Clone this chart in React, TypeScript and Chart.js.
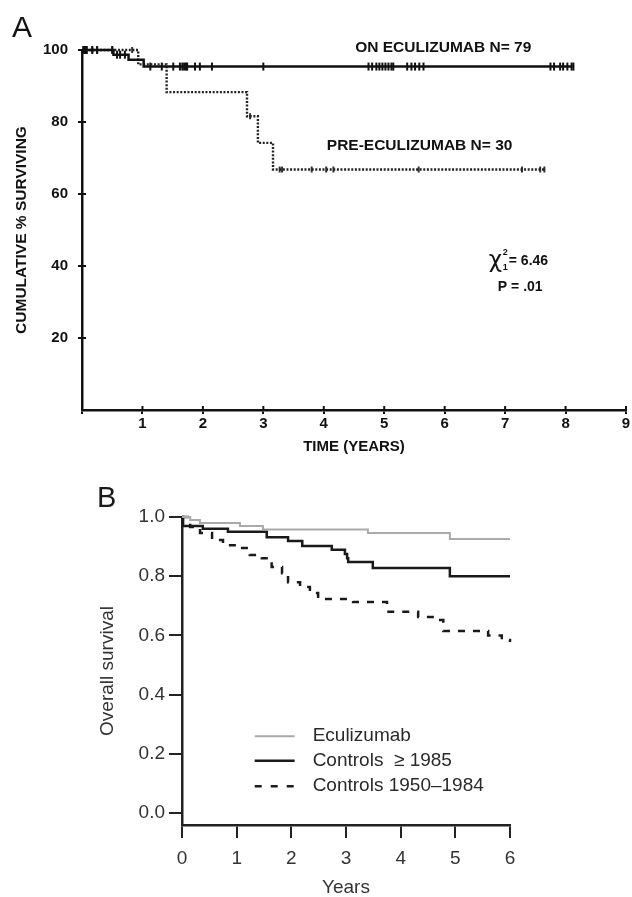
import React, { useEffect, useRef } from 'react';
import { Chart, registerables } from 'chart.js';
Chart.register(...registerables);

const FONT = '"Liberation Sans", Arial, Helvetica, sans-serif';

// ---------- Panel A data ----------
const onEculTimes = [0, 0.52, 0.77, 1.02, 8.13];
const onEculSurv = [100, 98.7, 97.3, 95.4, 95.4];
const onEculCensor = [0.02, 0.05, 0.08, 0.17, 0.25, 0.5, 0.58, 0.63, 0.71, 1.13, 1.32, 1.51, 1.62, 1.66, 1.69, 1.72, 1.74, 1.87, 1.95, 2.15, 3.0, 4.74, 4.8, 4.87, 4.92, 4.97, 5.02, 5.07, 5.12, 5.15, 5.38, 5.45, 5.51, 5.58, 5.65, 7.75, 7.81, 7.91, 7.96, 8.03, 8.1, 8.13];
const preEculTimes = [0, 0.93, 1.4, 2.73, 2.91, 3.16, 7.67];
const preEculSurv = [100, 96, 88.3, 81.6, 74.2, 66.8, 66.8];
const preEculCensor = [0.17, 0.25, 0.5, 0.83, 2.78, 3.27, 3.31, 3.8, 4.04, 4.16, 5.57, 7.28, 7.58, 7.65];
const xTicksA = [0, 1, 2, 3, 4, 5, 6, 7, 8, 9];
const yTicksA = [20, 40, 60, 80, 100];
const labelOnA = 'ON ECULIZUMAB N= 79';
const labelPreA = 'PRE-ECULIZUMAB N= 30';
const chiValue = '= 6.46';
const pValue = 'P = .01';

// ---------- Panel B data ----------
const ecuTimes = [0, 0.15, 0.33, 1.06, 1.48, 3.4, 4.9, 6.0];
const ecuSurv = [1.0, 0.99, 0.98, 0.97, 0.958, 0.946, 0.926, 0.926];
const ctlTimes = [0, 0.02, 0.38, 0.84, 1.55, 1.94, 2.2, 2.74, 2.98, 3.02, 3.04, 3.49, 4.9, 6.0];
const ctlSurv = [1.0, 0.97, 0.96, 0.95, 0.932, 0.919, 0.902, 0.889, 0.875, 0.861, 0.848, 0.828, 0.8, 0.8];
const oldTimes = [0, 0.15, 0.33, 0.55, 0.75, 1.1, 1.24, 1.46, 1.64, 1.83, 1.94, 2.16, 2.34, 2.49, 3.13, 3.75, 4.32, 4.63, 4.78, 5.6, 5.85, 6.0];
const oldSurv = [1.0, 0.966, 0.946, 0.922, 0.905, 0.895, 0.872, 0.861, 0.831, 0.81, 0.78, 0.764, 0.743, 0.723, 0.713, 0.68, 0.662, 0.652, 0.615, 0.6, 0.585, 0.578];
const xTicksB = [0, 1, 2, 3, 4, 5, 6];
const yTicksB = [0, 0.2, 0.4, 0.6, 0.8, 1.0];
const legendB = ['Eculizumab', 'Controls  \u2265 1985', 'Controls 1950\u20131984'];

function stepData(times: number[], surv: number[]) {
  return times.map((t, i) => ({ x: t, y: surv[i] }));
}
function survAt(times: number[], surv: number[], t: number) {
  let v = surv[0];
  for (let i = 0; i < times.length; i++) if (times[i] <= t) v = surv[i];
  return v;
}

const crossTicks = {
  id: 'crossTicks',
  afterDatasetsDraw(chart: any) {
    const { ctx, scales } = chart;
    const x = scales.x, y = scales.y;
    ctx.save();
    ctx.strokeStyle = '#111';
    ctx.lineWidth = 2;
    const ax = chart.chartArea.left;
    const ay = chart.chartArea.bottom;
    y.ticks.forEach((t: any) => {
      const py = y.getPixelForValue(t.value);
      ctx.beginPath(); ctx.moveTo(ax, py); ctx.lineTo(ax + 4, py); ctx.stroke();
    });
    x.ticks.forEach((t: any) => {
      const px = x.getPixelForValue(t.value);
      ctx.beginPath(); ctx.moveTo(px, ay); ctx.lineTo(px, ay - 4); ctx.stroke();
    });
    ctx.restore();
  },
};

const annotA = {
  id: 'annotA',
  afterDraw(chart: any) {
    const { ctx, scales } = chart;
    const x = scales.x, y = scales.y;
    ctx.save();
    ctx.fillStyle = '#111';
    ctx.textBaseline = 'middle';
    ctx.textAlign = 'left';
    ctx.font = `bold 15.5px ${FONT}`;
    ctx.fillText(labelOnA, x.getPixelForValue(4.52), y.getPixelForValue(100.6));
    ctx.fillText(labelPreA, x.getPixelForValue(4.05), y.getPixelForValue(73.3));
    // chi-square
    const cx = x.getPixelForValue(6.73), cy = y.getPixelForValue(41.5);
    ctx.font = `23px "DejaVu Sans", ${FONT}`;
    ctx.fillText('\u03C7', cx, cy);
    ctx.font = `bold 9px ${FONT}`;
    ctx.fillText('2', cx + 14, cy - 8);
    ctx.fillText('1', cx + 14, cy + 7);
    ctx.font = `bold 14px ${FONT}`;
    ctx.fillText(chiValue, cx + 20, cy + 1);
    ctx.fillText(pValue, x.getPixelForValue(6.88), y.getPixelForValue(34.2));
    // panel letter
    ctx.font = `30px ${FONT}`;
    ctx.textBaseline = 'alphabetic';
    ctx.fillText('A', 12, 37);
    ctx.restore();
  },
};

const legendPluginB = {
  id: 'legendB',
  afterDraw(chart: any) {
    const { ctx, scales } = chart;
    const x = scales.x, y = scales.y;
    const x0 = x.getPixelForValue(1.33);
    const x1 = x.getPixelForValue(2.06);
    const tx = x.getPixelForValue(2.39);
    const y0 = y.getPixelForValue(0.26);
    const styles = [
      { color: '#aaaaaa', width: 2, dash: [] as number[] },
      { color: '#1a1a1a', width: 2.5, dash: [] as number[] },
      { color: '#1a1a1a', width: 2.5, dash: [7, 9] },
    ];
    const rowY = [0, 24.5, 50];
    ctx.save();
    legendB.forEach((txt, i) => {
      const yy = y0 + rowY[i];
      ctx.beginPath();
      ctx.strokeStyle = styles[i].color;
      ctx.lineWidth = styles[i].width;
      ctx.setLineDash(styles[i].dash);
      ctx.moveTo(x0, yy); ctx.lineTo(x1, yy); ctx.stroke();
      ctx.setLineDash([]);
      ctx.fillStyle = '#2a2a2a';
      ctx.font = `19px ${FONT}`;
      ctx.textBaseline = 'middle';
      ctx.textAlign = 'left';
      ctx.fillText(txt, tx, yy);
    });
    ctx.font = `29px ${FONT}`;
    ctx.textBaseline = 'alphabetic';
    ctx.fillStyle = '#1a1a1a';
    ctx.fillText('B', 97, 47);
    ctx.restore();
  },
};

function ChartA() {
  const ref = useRef<HTMLCanvasElement>(null);
  useEffect(() => {
    const tickFont = { family: FONT, size: 15, weight: 'bold' as const };
    const chart = new Chart(ref.current!, {
      type: 'line',
      data: {
        datasets: [
          { label: 'ON', data: stepData(onEculTimes, onEculSurv), stepped: 'before', borderColor: '#111', borderWidth: 2.5, pointRadius: 0, fill: false, clip: false } as any,
          { label: 'PRE', data: stepData(preEculTimes, preEculSurv), stepped: 'before', borderColor: '#222', borderWidth: 2.4, borderDash: [2, 1.6], pointRadius: 0, fill: false, clip: false } as any,
          { label: 'ONc', data: onEculCensor.map(t => ({ x: t, y: survAt(onEculTimes, onEculSurv, t) })), showLine: false, pointStyle: 'line', pointRotation: 90, pointRadius: 4, pointBorderWidth: 2, pointBorderColor: '#111', borderColor: '#111', clip: false } as any,
          { label: 'PREc', data: preEculCensor.map(t => ({ x: t, y: survAt(preEculTimes, preEculSurv, t) })), showLine: false, pointStyle: 'line', pointRotation: 90, pointRadius: 3, pointBorderWidth: 2, pointBorderColor: '#333', borderColor: '#333', clip: false } as any,
        ],
      },
      options: {
        animation: false,
        responsive: false,
        layout: { padding: { left: 0, right: 6, top: 50, bottom: 0 } },
        plugins: { legend: { display: false }, tooltip: { enabled: false } },
        scales: {
          x: {
            type: 'linear', min: 0, max: 9,
            afterBuildTicks: (s: any) => { s.ticks = xTicksA.map(v => ({ value: v })); },
            afterFit: (s: any) => { s.height = 50; },
            grid: { display: true, drawOnChartArea: false, drawTicks: true, tickLength: 4, color: '#111', lineWidth: 2 },
            border: { display: true, color: '#111', width: 2.5 },
            ticks: { font: tickFont, color: '#111', padding: 1, maxRotation: 0, autoSkip: false, callback: (v: any) => (v === 0 ? '' : String(v)) },
            title: { display: true, text: 'TIME (YEARS)', font: { family: FONT, size: 15, weight: 'bold' }, color: '#111', padding: { top: 0, bottom: 4 } },
          },
          y: {
            type: 'linear', min: 0, max: 100,
            afterBuildTicks: (s: any) => { s.ticks = yTicksA.map(v => ({ value: v })); },
            afterFit: (s: any) => { s.width = 82; },
            grid: { display: true, drawOnChartArea: false, drawTicks: true, tickLength: 4, color: '#111', lineWidth: 2 },
            border: { display: true, color: '#111', width: 2.5 },
            ticks: { font: tickFont, color: '#111', padding: 10, callback: (v: any) => String(v) },
            title: { display: true, text: 'CUMULATIVE % SURVIVING', font: { family: FONT, size: 15.5, weight: 'bold' }, color: '#111', padding: { top: 12.7, bottom: 0 } },
          },
        },
      } as any,
      plugins: [crossTicks, annotA],
    });
    return () => chart.destroy();
  }, []);
  return <canvas ref={ref} width={632} height={460} style={{ position: 'absolute', left: 0, top: 0, display: 'block' }} />;
}

function ChartB() {
  const ref = useRef<HTMLCanvasElement>(null);
  useEffect(() => {
    const tickFont = { family: FONT, size: 19 };
    const chart = new Chart(ref.current!, {
      type: 'line',
      data: {
        datasets: [
          { label: 'Eculizumab', data: stepData(ecuTimes, ecuSurv), stepped: 'before', borderColor: '#aaaaaa', borderWidth: 2, pointRadius: 0, fill: false, clip: false } as any,
          { label: 'Controls ≥1985', data: stepData(ctlTimes, ctlSurv), stepped: 'before', borderColor: '#1a1a1a', borderWidth: 2.5, pointRadius: 0, fill: false, clip: false } as any,
          { label: 'Controls 1950–1984', data: stepData(oldTimes, oldSurv), stepped: 'before', borderColor: '#1a1a1a', borderWidth: 2.5, borderDash: [7, 8], pointRadius: 0, fill: false, clip: false } as any,
        ],
      },
      options: {
        animation: false,
        responsive: false,
        layout: { padding: { left: 0, right: 122, top: 57, bottom: 0 } },
        plugins: { legend: { display: false }, tooltip: { enabled: false } },
        scales: {
          x: {
            type: 'linear', min: 0, max: 6,
            afterBuildTicks: (s: any) => { s.ticks = xTicksB.map(v => ({ value: v })); },
            afterFit: (s: any) => { s.height = 72; },
            grid: { display: true, drawOnChartArea: false, drawTicks: true, tickLength: 13, color: '#222', lineWidth: 2 },
            border: { display: true, color: '#222', width: 2.5 },
            ticks: { font: tickFont, color: '#333', padding: 9, maxRotation: 0, autoSkip: false, callback: (v: any) => String(v) },
            title: { display: true, text: 'Years', font: { family: FONT, size: 19, lineHeight: 1 }, color: '#333', padding: { top: 0, bottom: 0 } },
          },
          y: {
            type: 'linear', min: -0.04, max: 1.0,
            afterBuildTicks: (s: any) => { s.ticks = yTicksB.map(v => ({ value: v })); },
            afterFit: (s: any) => { s.width = 182; },
            grid: { display: true, drawOnChartArea: false, drawTicks: true, tickLength: 13, color: '#222', lineWidth: 2 },
            border: { display: true, color: '#222', width: 2.5 },
            ticks: { font: tickFont, color: '#333', padding: 4, callback: (v: any) => Number(v).toFixed(1) },
            title: { display: true, text: 'Overall survival', font: { family: FONT, size: 19, lineHeight: 1.2 }, color: '#333', padding: { top: 96.6, bottom: 0 } },
          },
        },
      } as any,
      plugins: [legendPluginB],
    });
    return () => chart.destroy();
  }, []);
  return <canvas ref={ref} width={632} height={437} style={{ position: 'absolute', left: 0, top: 460, display: 'block' }} />;
}

export default function App() {
  return (
    <div style={{ position: 'absolute', left: 0, top: 0, width: 632, height: 897, background: '#fff', overflow: 'hidden' }}>
      <ChartA />
      <ChartB />
    </div>
  );
}
